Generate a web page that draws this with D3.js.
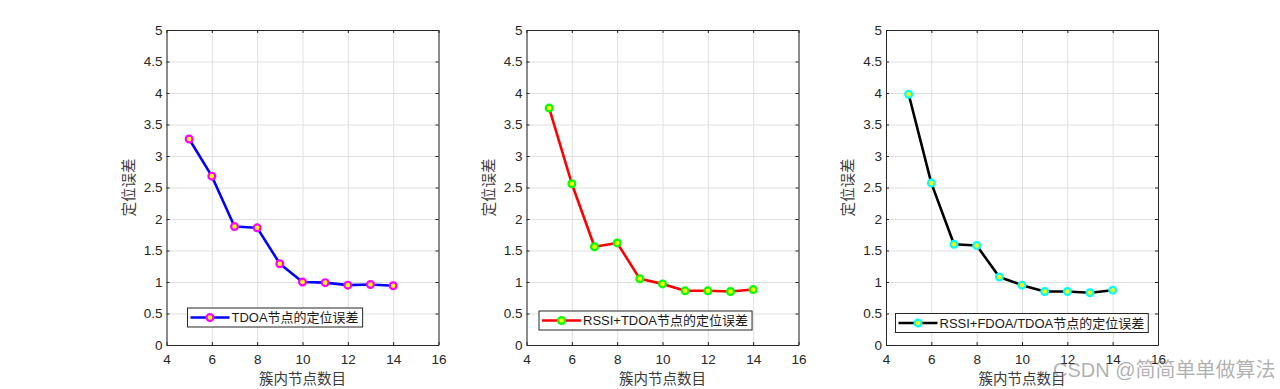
<!DOCTYPE html>
<html>
<head>
<meta charset="utf-8">
<script src="https://cdn.jsdelivr.net/npm/d3@7"></script>
<style>
  html, body { margin: 0; padding: 0; background: #fff; }
  svg { display: block; }
  .tick text { font-family: Arial, "Liberation Sans", Helvetica, sans-serif; font-size: 13.5px; fill: #262626; }
</style>
</head>
<body>
<svg id="chart" width="1280" height="389"></svg>
<script>
// data
const nodes = [5, 6, 7, 8, 9, 10, 11, 12, 13, 14]
const tdoaErr = [3.27, 2.68, 1.88, 1.86, 1.29, 1.00, 0.99, 0.95, 0.96, 0.94]
const rssiTdoaErr = [3.76, 2.56, 1.56, 1.62, 1.05, 0.97, 0.86, 0.86, 0.85, 0.88]
const rssiFdoaTdoaErr = [3.98, 2.57, 1.60, 1.58, 1.08, 0.95, 0.85, 0.85, 0.83, 0.87]
const xTicks = [4, 6, 8, 10, 12, 14, 16]
const yTicks = [0, 0.5, 1, 1.5, 2, 2.5, 3, 3.5, 4, 4.5, 5]
const legendLabels = ['TDOA节点的定位误差', 'RSSI+TDOA节点的定位误差', 'RSSI+FDOA/TDOA节点的定位误差']
const xLabel = '簇内节点数目'
const yLabel = '定位误差'

const panels = [
    { values: tdoaErr, label: legendLabels[0], line: '#0000ff', edge: '#ff00ff', left: 166.5, legX: 21, legY: 278 },
    { values: rssiTdoaErr, label: legendLabels[1], line: '#ff0000', edge: '#00ff00', left: 526.5, legX: 12.5, legY: 281 },
    { values: rssiFdoaTdoaErr, label: legendLabels[2], line: '#000000', edge: '#00ffff', left: 886, legX: 9.5, legY: 283.5 }
]

const plotTop = 30
const width = 272
const height = 315
const axisColor = '#262626'
const gridColor = '#dfdfdf'
const cjk = '"Noto Sans CJK SC", sans-serif'

const svg = d3.select('#chart')

function drawPanel(p) {
    const x = d3.scaleLinear().domain([4, 16]).range([0, width])
    const y = d3.scaleLinear().domain([0, 5]).range([height, 0])
    const g = svg.append('g').attr('transform', `translate(${p.left}, ${plotTop})`)

    // grid
    g.append('g')
        .attr('transform', `translate(0, ${height})`)
        .call(d3.axisBottom(x).tickValues(xTicks).tickSize(-height).tickFormat(''))
        .call(s => s.select('.domain').remove())
        .call(s => s.selectAll('line').attr('stroke', gridColor))
    g.append('g')
        .call(d3.axisLeft(y).tickValues(yTicks).tickSize(-width).tickFormat(''))
        .call(s => s.select('.domain').remove())
        .call(s => s.selectAll('line').attr('stroke', gridColor))

    // axes with inward ticks, mirrored on top/right
    const bottomAxis = g.append('g')
        .attr('transform', `translate(0, ${height})`)
        .call(d3.axisBottom(x).tickValues(xTicks).tickSizeInner(-3).tickSizeOuter(0).tickPadding(9).tickFormat(d3.format('d')))
    g.append('g')
        .call(d3.axisLeft(y).tickValues(yTicks).tickSizeInner(-3).tickSizeOuter(0).tickPadding(4).tickFormat(d => String(d)))
    g.append('g')
        .call(d3.axisTop(x).tickValues(xTicks).tickSizeInner(-3).tickSizeOuter(0).tickFormat(''))
    g.append('g')
        .attr('transform', `translate(${width}, 0)`)
        .call(d3.axisRight(y).tickValues(yTicks).tickSizeInner(-3).tickSizeOuter(0).tickFormat(''))
    g.selectAll('.domain, .tick line').filter(function () { return this.getAttribute('stroke') !== gridColor })
        .attr('stroke', axisColor)
    bottomAxis.selectAll('.tick text').attr('dy', '0.71em')

    // series
    const pts = nodes.map((n, i) => [n, p.values[i]])
    g.append('path')
        .datum(pts)
        .attr('fill', 'none')
        .attr('stroke', p.line)
        .attr('stroke-width', 2.6)
        .attr('stroke-linejoin', 'round')
        .attr('d', d3.line().x(d => x(d[0])).y(d => y(d[1])))
    g.selectAll('circle.pt')
        .data(pts)
        .join('circle')
        .attr('class', 'pt')
        .attr('cx', d => x(d[0]))
        .attr('cy', d => y(d[1]))
        .attr('r', 3.4)
        .attr('fill', '#ffff00')
        .attr('stroke', p.edge)
        .attr('stroke-width', 2.2)

    // axis labels
    g.append('text')
        .attr('x', width / 2)
        .attr('y', height + 39)
        .attr('text-anchor', 'middle')
        .style('font-family', cjk)
        .style('font-size', '14.5px')
        .attr('fill', '#3a3a3a')
        .text(xLabel)
    g.append('text')
        .attr('transform', `translate(-33, ${height / 2}) rotate(-90)`)
        .attr('text-anchor', 'middle')
        .style('font-family', cjk)
        .style('font-size', '14.5px')
        .attr('fill', '#3a3a3a')
        .text(yLabel)

    // legend
    const leg = g.append('g').attr('transform', `translate(${p.legX}, ${p.legY})`)
    const box = leg.append('rect')
        .attr('height', 19)
        .attr('fill', '#fff')
        .attr('stroke', axisColor)
        .attr('stroke-width', 1)
    leg.append('line')
        .attr('x1', 3).attr('x2', 42)
        .attr('y1', 9.5).attr('y2', 9.5)
        .attr('stroke', p.line)
        .attr('stroke-width', 2.6)
    leg.append('circle')
        .attr('cx', 22.5).attr('cy', 9.5)
        .attr('r', 3.4)
        .attr('fill', '#ffff00')
        .attr('stroke', p.edge)
        .attr('stroke-width', 2.2)
    const t = leg.append('text')
        .attr('x', 44)
        .attr('y', 14)
        .style('font-family', 'Arial, "Liberation Sans", "Noto Sans CJK SC", sans-serif')
        .style('font-size', '13px')
        .attr('fill', '#1a1a1a')
        .text(p.label)
    box.attr('width', 44 + t.node().getComputedTextLength() + 4)
}

panels.forEach(drawPanel)

// watermark
svg.append('text')
    .attr('x', 1053)
    .attr('y', 377)
    .style('font-family', 'Arial, "Liberation Sans", "Noto Sans CJK SC", sans-serif')
    .style('font-size', '20px')
    .attr('fill', 'rgba(110,110,110,0.55)')
    .text('CSDN @简简单单做算法')
</script>
</body>
</html>
